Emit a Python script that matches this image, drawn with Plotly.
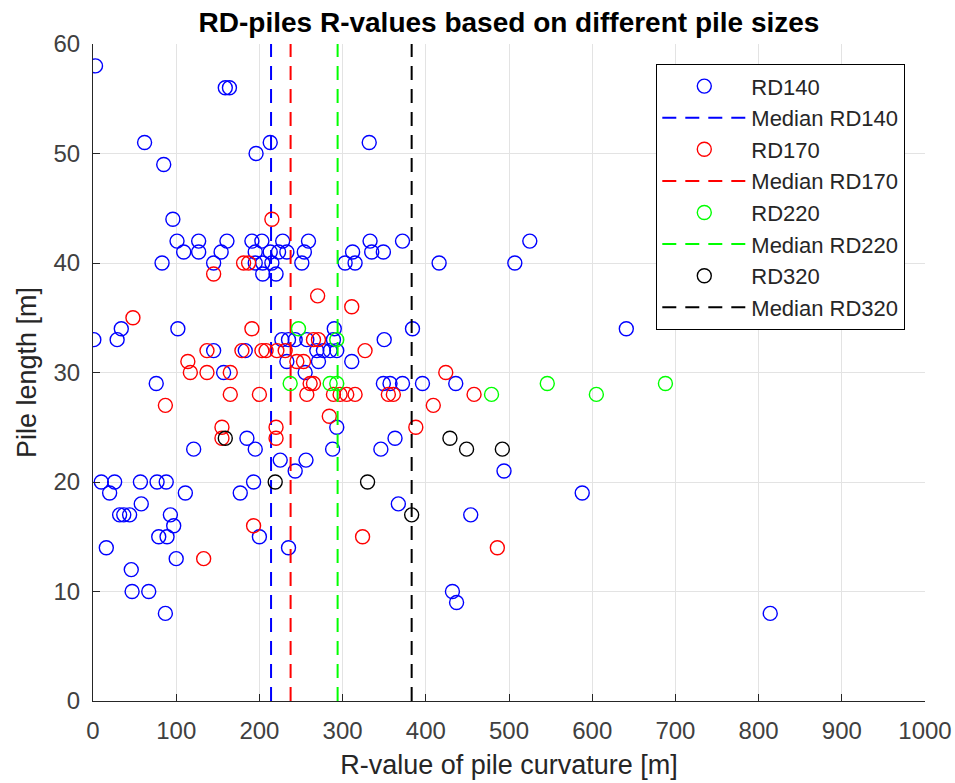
import plotly.graph_objects as go

# ---- data ----
rd140_x = [3, 159, 164, 62, 85, 196, 213, 332, 96,
           101, 127, 161, 191, 203, 228, 259, 333, 372, 525,
           109, 127, 154, 195, 213, 223, 233, 254, 312, 335, 349,
           83, 145, 195, 204, 215, 251, 303, 315, 416, 507,
           204, 220,
           34, 102, 290, 384, 641,
           1, 29, 227, 235, 243, 257, 289, 350,
           145, 183, 269, 277, 285, 293,
           233, 271, 311,
           157, 255,
           76, 349, 357, 372, 396, 436,
           293,
           185, 363,
           121, 195, 288, 346,
           225, 256,
           243, 494,
           10, 26, 57, 77, 88, 193,
           20, 111, 177, 588,
           58, 367,
           32, 37, 44, 93, 454,
           97,
           79, 89, 200,
           16, 235,
           100,
           46,
           47, 67, 432,
           437,
           87, 814]
rd140_y = [58, 56, 56, 51, 49, 50, 51, 51, 44,
           42, 42, 42, 42, 42, 42, 42, 42, 42, 42,
           41, 41, 41, 41, 41, 41, 41, 41, 41, 41, 41,
           40, 40, 40, 40, 40, 40, 40, 40, 40, 40,
           39, 39,
           34, 34, 34, 34, 34,
           33, 33, 33, 33, 33, 33, 33, 33,
           32, 32, 32, 32, 32, 32,
           31, 31, 31,
           30, 30,
           29, 29, 29, 29, 29, 29,
           25,
           24, 24,
           23, 23, 23, 23,
           22, 22,
           21, 21,
           20, 20, 20, 20, 20, 20,
           19, 19, 19, 19,
           18, 18,
           17, 17, 17, 17, 17,
           16,
           15, 15, 15,
           14, 14,
           13,
           12,
           10, 10, 10,
           9,
           8, 8]

rd170_x = [215, 181, 187, 145, 270, 311, 48, 191,
           265, 271,
           137, 179, 203, 208, 221, 231, 327,
           114, 245, 253,
           117, 137, 165, 424,
           261, 265,
           165, 200, 257, 289, 297, 305, 315, 355, 361, 458,
           87, 409,
           284,
           155, 220, 388,
           155, 220,
           193, 324, 486, 133]
rd170_y = [44, 40, 40, 39, 37, 36, 35, 34,
           33, 33,
           32, 32, 32, 32, 32, 32, 32,
           31, 31, 31,
           30, 30, 30, 30,
           29, 29,
           28, 28, 28, 28, 28, 28, 28, 28, 28, 28,
           27, 27,
           26,
           25, 25, 25,
           24, 24,
           16, 15, 14, 13]

rd220_x = [247, 293, 237, 285, 293, 546, 688, 479, 605]
rd220_y = [34, 33, 29, 29, 29, 29, 29, 28, 28]

rd320_x = [159, 219, 330, 383, 429, 449, 492]
rd320_y = [24, 20, 20, 17, 24, 23, 23]

series_names = ["RD140", "RD170", "RD220", "RD320"]
medians = [214, 237.5, 294, 383]
colors = ["#0000FF", "#FF0000", "#00FF00", "#000000"]

x_ticks = list(range(0, 1001, 100))
y_ticks = list(range(0, 61, 10))

FONT = "Liberation Sans, Arial, Helvetica, sans-serif"

# plot area in pixels
L, R, T, B = 93, 925, 44, 701
W, H = 955, 783

fig = go.Figure()
data = [(rd140_x, rd140_y), (rd170_x, rd170_y), (rd220_x, rd220_y), (rd320_x, rd320_y)]
for i, (name, (xs, ys), med, col) in enumerate(zip(series_names, data, medians, colors)):
    fig.add_trace(go.Scatter(
        x=xs, y=ys, mode="markers", name=name,
        legendgroup=f"g{2*i}",
        marker=dict(symbol="circle-open", size=14, color=col, line=dict(width=1.4, color=col)),
    ))
    fig.add_trace(go.Scatter(
        x=[med, med], y=[0, 60], mode="lines", name=f"Median {name}",
        legendgroup=f"g{2*i+1}",
        line=dict(color=col, width=2, dash="14px,9px"),
    ))

fig.update_layout(
    width=W, height=H,
    margin=dict(l=L, r=W - R, t=T, b=H - B, autoexpand=False),
    paper_bgcolor="white", plot_bgcolor="white",
    font=dict(family=FONT, size=24, color="#262626"),
    title=dict(text="<b>RD-piles R-values based on different pile sizes</b>",
               x=(L + R) / 2 / W, xanchor="center", y=1 - 22 / H, yanchor="middle",
               font=dict(size=28, color="black")),
    showlegend=True,
    legend=dict(
        x=(905 - L) / (R - L), xanchor="right", xref="paper",
        y=(B - 64) / (B - T), yanchor="top", yref="paper",
        bgcolor="white", bordercolor="black", borderwidth=1.3,
        font=dict(size=22, color="#262626"),
        traceorder="grouped", tracegroupgap=0, itemwidth=84,
    ),
)
fig.update_xaxes(
    range=[0, 1000], tickvals=x_ticks, ticks="inside", ticklen=7, tickcolor="#262626",
    showline=True, linecolor="#262626", linewidth=1.2,
    showgrid=True, gridcolor="#e3e3e3", gridwidth=1, zeroline=False,
    title=dict(text="R-value of pile curvature [m]", font=dict(size=27), standoff=12),
    tickfont=dict(size=24, color="#404040"), ticklabelstandoff=8,
)
fig.update_yaxes(
    range=[0, 60], tickvals=y_ticks, ticks="inside", ticklen=7, tickcolor="#262626",
    showline=True, linecolor="#262626", linewidth=1.2,
    showgrid=True, gridcolor="#e3e3e3", gridwidth=1, zeroline=False,
    title=dict(text="Pile length [m]", font=dict(size=27), standoff=8),
    tickfont=dict(size=24, color="#404040"), ticklabelstandoff=7,
)

fig.write_html("out.html")
